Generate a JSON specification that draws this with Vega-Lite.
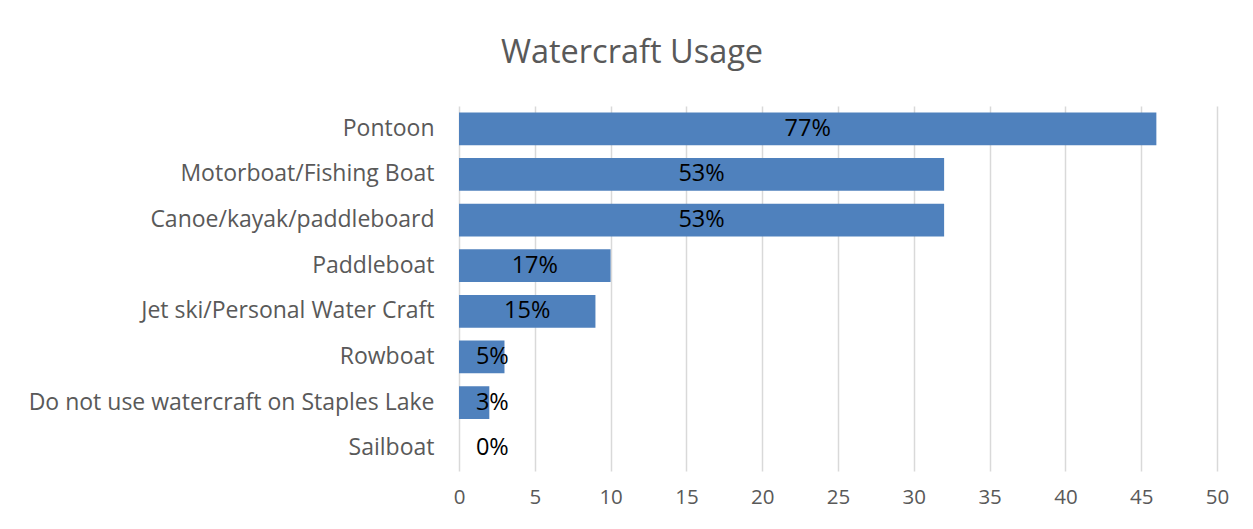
{
  "$schema": "https://vega.github.io/schema/vega-lite/v6.json",
  "autosize": "none",
  "width": 758,
  "height": 365,
  "padding": {"left": 459, "top": 106, "right": 36, "bottom": 58},
  "background": "white",
  "title": {
    "text": "Watercraft Usage",
    "font": "Open Sans",
    "fontSize": 32.5,
    "fontWeight": "normal",
    "color": "#595959",
    "anchor": "middle",
    "dx": -206,
    "offset": 37
  },
  "data": {
    "values": [
      {"craft": "Pontoon", "count": 46, "pct": "77%"},
      {"craft": "Motorboat/Fishing Boat", "count": 32, "pct": "53%"},
      {"craft": "Canoe/kayak/paddleboard", "count": 32, "pct": "53%"},
      {"craft": "Paddleboat", "count": 10, "pct": "17%"},
      {"craft": "Jet ski/Personal Water Craft", "count": 9, "pct": "15%"},
      {"craft": "Rowboat", "count": 3, "pct": "5%"},
      {"craft": "Do not use watercraft on Staples Lake", "count": 2, "pct": "3%"},
      {"craft": "Sailboat", "count": 0, "pct": "0%"}
    ]
  },
  "transform": [{"calculate": "max(datum.count / 2, 2.2)", "as": "labelPos"}],
  "encoding": {
    "y": {
      "field": "craft",
      "type": "nominal",
      "sort": null,
      "scale": {"paddingInner": 0.28, "paddingOuter": 0.14},
      "axis": {
        "title": null,
        "domain": false,
        "ticks": false,
        "grid": false,
        "labelFont": "Open Sans",
        "labelFontSize": 23,
        "labelColor": "#595959",
        "labelPadding": 25,
        "labelLimit": 600
      }
    }
  },
  "layer": [
    {
      "mark": {"type": "bar", "color": "#4f81bd"},
      "encoding": {
        "x": {
          "field": "count",
          "type": "quantitative",
          "scale": {"domain": [0, 50], "nice": false},
          "axis": {
            "title": null,
            "values": [0, 5, 10, 15, 20, 25, 30, 35, 40, 45, 50],
            "domain": false,
            "ticks": false,
            "grid": true,
            "gridColor": "#d9d9d9",
            "gridWidth": 1.5,
            "labelFlush": false,
            "labelFont": "Open Sans",
            "labelFontSize": 20.5,
            "labelColor": "#595959",
            "labelPadding": 16
          }
        }
      }
    },
    {
      "mark": {"type": "text", "font": "Open Sans", "fontSize": 23.5, "color": "black", "align": "center", "baseline": "middle"},
      "encoding": {
        "x": {"field": "labelPos", "type": "quantitative"},
        "text": {"field": "pct"}
      }
    }
  ],
  "config": {"view": {"stroke": null}}
}
